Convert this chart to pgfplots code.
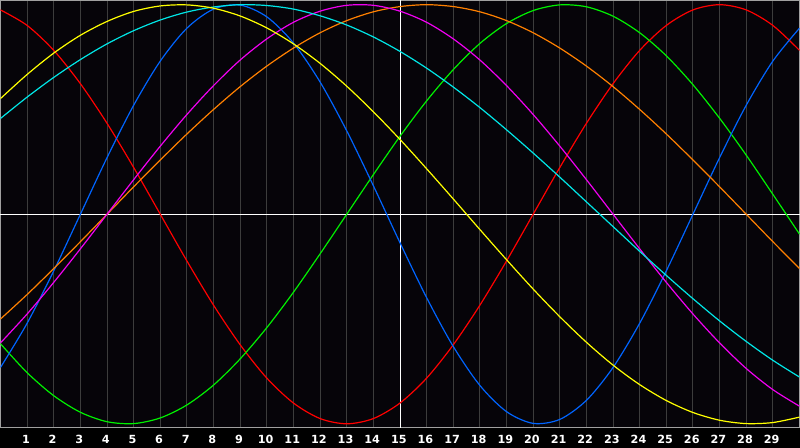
\documentclass[border=0pt]{standalone}
\usepackage{pgfplots}
\pgfplotsset{compat=1.18}
\usepackage{pgfplotstable}
\usepackage{fontspec}
\setmainfont{DejaVu Sans}

\definecolor{bg}{HTML}{060409}
\definecolor{gridgray}{HTML}{3C3C3C}
\definecolor{boxgray}{HTML}{A0A0A0}
\definecolor{cred}{HTML}{FF0000}
\definecolor{cgreen}{HTML}{00F000}
\definecolor{cblue}{HTML}{0064FF}
\definecolor{ccyan}{HTML}{00E6E6}
\definecolor{cmagenta}{HTML}{F000F0}
\definecolor{cyellow}{HTML}{FFFF00}
\definecolor{corange}{HTML}{FF8000}

% day, then one column per cycle
\pgfplotstableread{
d  red    green  blue   magenta orange yellow cyan
0  0.975 -0.618 -0.731 -0.614 -0.500  0.552  0.457
1  0.901 -0.756 -0.520 -0.476 -0.383  0.667  0.559
2  0.782 -0.866 -0.270 -0.325 -0.259  0.769  0.653
3  0.623 -0.945  0.000 -0.165 -0.131  0.854  0.738
4  0.434 -0.990  0.270  0.000  0.000  0.920  0.813
5  0.223 -0.999  0.520  0.165  0.131  0.968  0.876
6  0.000 -0.972  0.731  0.325  0.259  0.994  0.927
7 -0.223 -0.910  0.888  0.476  0.383  0.999  0.965
8 -0.434 -0.815  0.979  0.614  0.500  0.983  0.989
9 -0.623 -0.690  0.998  0.736  0.609  0.946  1.000
10 -0.782 -0.541  0.942  0.837  0.707  0.889  0.996
11 -0.901 -0.372  0.817  0.916  0.793  0.813  0.979
12 -0.975 -0.189  0.631  0.969  0.866  0.720  0.947
13 -1.000  0.000  0.398  0.997  0.924  0.611  0.903
14 -0.975  0.189  0.136  0.997  0.966  0.489  0.846
15 -0.901  0.372 -0.136  0.969  0.991  0.357  0.777
16 -0.782  0.541 -0.398  0.916  1.000  0.217  0.697
17 -0.623  0.690 -0.631  0.837  0.991  0.073  0.607
18 -0.434  0.815 -0.817  0.736  0.966 -0.073  0.509
19 -0.223  0.910 -0.942  0.614  0.924 -0.217  0.403
20  0.000  0.972 -0.998  0.476  0.866 -0.357  0.292
21  0.223  0.999 -0.979  0.325  0.793 -0.489  0.177
22  0.434  0.990 -0.888  0.165  0.707 -0.611  0.059
23  0.623  0.945 -0.731  0.000  0.609 -0.720 -0.059
24  0.782  0.866 -0.520 -0.165  0.500 -0.813 -0.177
25  0.901  0.756 -0.270 -0.325  0.383 -0.889 -0.292
26  0.975  0.618  0.000 -0.476  0.259 -0.946 -0.403
27  1.000  0.458  0.270 -0.614  0.131 -0.983 -0.509
28  0.975  0.282  0.520 -0.736  0.000 -0.999 -0.607
29  0.901  0.095  0.731 -0.837 -0.131 -0.994 -0.697
30  0.782 -0.095  0.888 -0.916 -0.259 -0.968 -0.777
}\cycles

\begin{document}
\begin{tikzpicture}
\fill[black] (0,-10pt) rectangle (400pt,214pt);
\begin{axis}[
  at={(0.25pt,0pt)}, anchor=south west,
  scale only axis, width=399.5pt, height=213.75pt,
  xmin=0, xmax=30, ymin=-1.02, ymax=1.02,
  axis background/.style={fill=bg},
  axis line style={draw=boxgray, line width=0.5pt},
  xtick={1,...,29}, ytick=\empty,
  major tick length=0pt,
  xmajorgrids,
  major grid style={draw=gridgray, line width=0.5pt},
  extra x ticks={15}, extra x tick labels={},
  extra y ticks={0}, extra y tick labels={},
  extra tick style={grid=major, major grid style={draw=white, line width=0.5pt}},
  xticklabel style={/pgf/number format/assume math mode=true,
    font=\bfseries\fontsize{5.6}{5.6}\selectfont, text=white,
    inner sep=0pt, anchor=north, yshift=-3.6pt, xshift=-0.6pt},
  every axis plot/.append style={line width=0.6pt, smooth, no markers},
]
\addplot[cred] table[x=d, y=red] {\cycles};
\addplot[cgreen] table[x=d, y=green] {\cycles};
\addplot[cblue] table[x=d, y=blue] {\cycles};
\addplot[corange] table[x=d, y=orange] {\cycles};
\addplot[cmagenta] table[x=d, y=magenta] {\cycles};
\addplot[ccyan] table[x=d, y=cyan] {\cycles};
\addplot[cyellow] table[x=d, y=yellow] {\cycles};
\end{axis}
\pgfresetboundingbox
\path[use as bounding box] (0,-10pt) rectangle (400pt,214pt);
\end{tikzpicture}
\end{document}
